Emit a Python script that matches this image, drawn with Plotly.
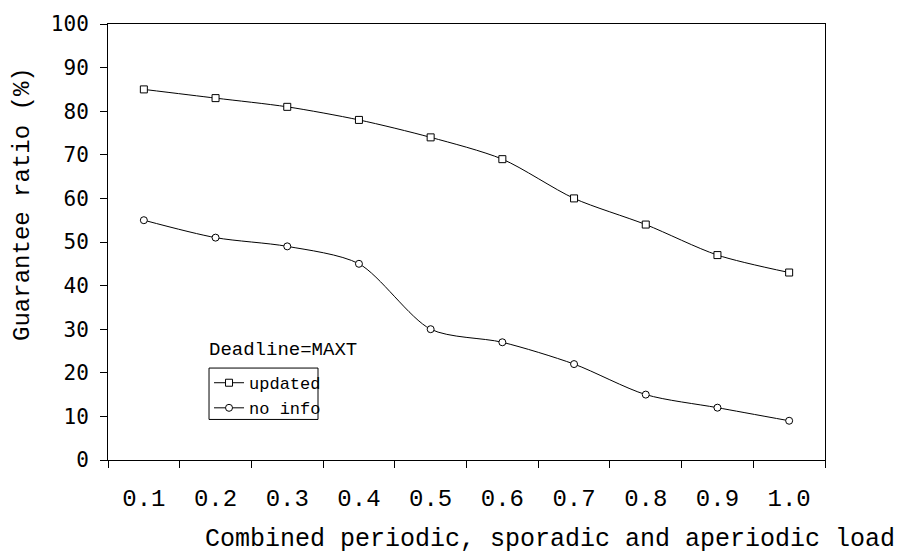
import plotly.graph_objects as go

# Combined load levels (categories along the x axis)
loads = ["0.1", "0.2", "0.3", "0.4", "0.5", "0.6", "0.7", "0.8", "0.9", "1.0"]

# Guarantee ratio (%) for each scheme
updated = [85, 83, 81, 78, 74, 69, 60, 54, 47, 43]
no_info = [55, 51, 49, 45, 30, 27, 22, 15, 12, 9]

y_ticks = list(range(0, 101, 10))

MONO = "Liberation Mono, Courier New, monospace"
SANS_MONO = "DejaVu Sans Mono, monospace"

fig = go.Figure()

fig.add_trace(go.Scatter(
    x=loads, y=updated, name="updated",
    mode="lines+markers",
    line=dict(color="black", width=1, shape="spline", smoothing=0.8),
    marker=dict(symbol="square", size=7, color="white",
                line=dict(color="black", width=1)),
))
fig.add_trace(go.Scatter(
    x=loads, y=no_info, name="no info",
    mode="lines+markers",
    line=dict(color="black", width=1, shape="spline", smoothing=0.8),
    marker=dict(symbol="circle", size=7, color="white",
                line=dict(color="black", width=1)),
))

fig.update_layout(
    width=901, height=553,
    margin=dict(l=108, r=76, t=19, b=93),
    paper_bgcolor="white", plot_bgcolor="white",
    showlegend=True,
    legend=dict(
        x=0.1409, y=0.2175, xanchor="left", yanchor="top",
        bgcolor="rgba(0,0,0,0)", borderwidth=0,
        font=dict(family=MONO, size=17, color="black"),
        itemwidth=30,
    ),
    xaxis=dict(
        type="category", categoryorder="array", categoryarray=loads,
        range=[-0.5, 9.5], tickson="boundaries",
        showline=True, linecolor="black", linewidth=1, mirror=True,
        ticks="outside", ticklen=7, tickcolor="black", tickwidth=1,
        showgrid=False, zeroline=False,
        ticklabelstandoff=16,
        tickfont=dict(family=MONO, size=24, color="black"),
    ),
    yaxis=dict(
        range=[0, 100], tickvals=y_ticks,
        showline=True, linecolor="black", linewidth=1, mirror=True,
        ticks="outside", ticklen=7, tickcolor="black", tickwidth=1,
        showgrid=False, zeroline=False,
        ticklabelstandoff=7,
        tickfont=dict(family=SANS_MONO, size=21, color="black"),
    ),
    shapes=[dict(
        type="rect", xref="paper", yref="paper",
        x0=0.1409, x1=0.2929, y0=0.093, y1=0.2109,
        line=dict(color="black", width=1), fillcolor="rgba(0,0,0,0)",
    )],
    annotations=[
        dict(text="Guarantee ratio (%)", textangle=-90,
             xref="paper", yref="paper",
             x=(23 - 108) / 717, y=(460 - 201) / 441,
             xanchor="center", yanchor="middle", showarrow=False,
             font=dict(family=MONO, size=24, color="black")),
        dict(text="Combined periodic, sporadic and aperiodic load",
             xref="paper", yref="paper",
             x=(550 - 108) / 717, y=(460 - 540) / 441,
             xanchor="center", yanchor="middle", showarrow=False,
             font=dict(family=MONO, size=25, color="black")),
        dict(text="Deadline=MAXT",
             xref="paper", yref="paper",
             x=(207 - 108) / 717, y=(460 - 349) / 441,
             xanchor="left", yanchor="middle", showarrow=False,
             font=dict(family=MONO, size=19, color="black")),
    ],
)

fig.write_html("out.html")
